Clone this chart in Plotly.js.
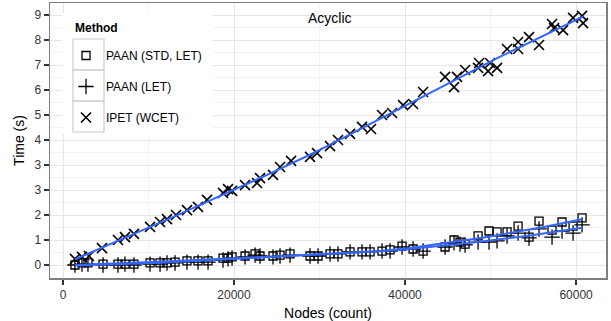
<!DOCTYPE html>
<html>
<head>
<meta charset="utf-8">
<script src="https://cdn.plot.ly/plotly-3.0.1.min.js"></script>
<style>html,body{margin:0;padding:0;background:#fff;}#chart{width:611px;height:321px;}</style>
</head>
<body>
<div id="chart"></div>
<script>
// ---- data ----
const methodNames = ["PAAN (STD, LET)", "PAAN (LET)", "IPET (WCET)"];

const paanNodes = [1400, 2220, 2920, 4680, 6430, 7250, 8300, 10180, 11350, 12160, 13100, 14500, 15790, 16960,
  18710, 19300, 19770, 21290, 22460, 23040, 24560, 25380, 26550, 28890, 29830, 31230, 32160, 33570, 34970,
  35910, 37310, 38250, 39650, 40940, 42110, 44680, 45730, 46430, 47020, 48540, 49820, 50760, 51930, 53220,
  54500, 55670, 57190, 58360, 59650, 60700];
const paanStdLetTime = [0.00, 0.07, 0.07, 0.03, 0.03, 0.03, 0.03, 0.07, 0.07, 0.07, 0.10, 0.14, 0.14, 0.14,
  0.24, 0.24, 0.28, 0.31, 0.38, 0.31, 0.31, 0.34, 0.38, 0.31, 0.31, 0.38, 0.38, 0.45, 0.45,
  0.45, 0.48, 0.52, 0.65, 0.55, 0.48, 0.62, 0.86, 0.79, 0.72, 1.00, 1.17, 1.14, 1.14, 1.34,
  0.96, 1.51, 1.20, 1.48, 1.34, 1.62];
const paanLetTime = [0.00, 0.03, 0.03, 0.00, 0.00, 0.03, 0.00, 0.03, 0.03, 0.07, 0.07, 0.10, 0.10, 0.10,
  0.17, 0.21, 0.24, 0.28, 0.34, 0.31, 0.28, 0.31, 0.34, 0.31, 0.31, 0.38, 0.38, 0.45, 0.45,
  0.45, 0.48, 0.48, 0.62, 0.55, 0.48, 0.62, 0.76, 0.72, 0.69, 0.79, 0.79, 0.83, 1.00, 1.10,
  0.93, 1.24, 0.96, 1.17, 1.10, 1.38];

const ipetNodes = [1400, 2220, 3040, 4560, 6430, 7250, 8300, 10180, 11350, 12160, 13220, 14500, 15790, 16840,
  18710, 19300, 19770, 21290, 22690, 23040, 24560, 25380, 26670, 28890, 29710, 31230, 32160, 33570, 34970,
  36020, 37310, 38480, 39770, 40940, 42110, 44680, 45730, 46080, 47020, 48540, 48660, 49710, 49940, 50760,
  51930, 53220, 53220, 54500, 55670, 57190, 57430, 58480, 59650, 60700, 60820];
const ipetTime = [0.21, 0.28, 0.31, 0.58, 0.86, 0.96, 1.07, 1.31, 1.48, 1.58, 1.72, 1.89, 2.00, 2.24,
  2.48, 2.61, 2.55, 2.75, 2.82, 2.99, 3.10, 3.37, 3.58, 3.72, 3.85, 4.09, 4.30, 4.51, 4.75,
  4.68, 5.16, 5.23, 5.50, 5.54, 5.95, 6.47, 6.12, 6.47, 6.71, 6.78, 6.95, 6.67, 6.95, 6.78,
  7.43, 7.43, 7.67, 7.84, 7.57, 8.29, 8.15, 8.08, 8.50, 8.57, 8.32];

// y tick positions (seconds) and their printed labels
const yTickVals = [0, 0.86, 1.72, 2.58, 3.44, 4.30, 5.16, 6.02, 6.88, 7.74, 8.60];
const yTickText = ["0", "1", "2", "3", "3", "4", "5", "6", "7", "8", "9"];
const yMinorVals = [0.43, 1.29, 2.15, 3.01, 3.87, 4.73, 5.59, 6.45, 7.31, 8.17];
const xTickVals = [0, 20000, 40000, 60000];
const xTickText = ["0", "20000", "40000", "60000"];
const xMinorVals = [10000, 30000, 50000];

// ---- loess smoother (degree 2, tricube weights, span 0.75) like geom_smooth ----
function loess(xs, ys, span, nOut) {
  const n = xs.length;
  const q = Math.max(3, Math.floor(n * span));
  const xmin = Math.min(...xs), xmax = Math.max(...xs);
  const outX = [], outY = [];
  for (let k = 0; k < nOut; k++) {
    const x0 = xmin + (xmax - xmin) * k / (nOut - 1);
    const d = xs.map(x => Math.abs(x - x0));
    const h = d.slice().sort((a, b) => a - b)[q - 1] * 1.0001;
    const S = [[0,0,0],[0,0,0],[0,0,0]], B = [0,0,0];
    for (let i = 0; i < n; i++) {
      const u = d[i] / h;
      if (u >= 1) continue;
      const w = Math.pow(1 - u * u * u, 3);
      const t = (xs[i] - x0) / h;
      const v = [1, t, t * t];
      for (let a = 0; a < 3; a++) {
        B[a] += w * v[a] * ys[i];
        for (let b = 0; b < 3; b++) S[a][b] += w * v[a] * v[b];
      }
    }
    const M = S.map((r, i) => r.concat([B[i]]));
    for (let c = 0; c < 3; c++) {
      let p = c;
      for (let r = c + 1; r < 3; r++) if (Math.abs(M[r][c]) > Math.abs(M[p][c])) p = r;
      [M[c], M[p]] = [M[p], M[c]];
      for (let r = c + 1; r < 3; r++) {
        const f = M[r][c] / M[c][c];
        for (let cc = c; cc < 4; cc++) M[r][cc] -= f * M[c][cc];
      }
    }
    const sol = [0, 0, 0];
    for (let r = 2; r >= 0; r--) {
      let s = M[r][3];
      for (let cc = r + 1; cc < 3; cc++) s -= M[r][cc] * sol[cc];
      sol[r] = s / M[r][r];
    }
    outX.push(x0); outY.push(sol[0]);
  }
  return {x: outX, y: outY};
}

const FONT = "Liberation Sans, Arial, Helvetica, sans-serif";
const sqFit = loess(paanNodes, paanStdLetTime, 0.75, 120);
const plFit = loess(paanNodes, paanLetTime, 0.75, 120);
const ipFit = loess(ipetNodes, ipetTime, 0.75, 120);

const pointStyle = (sym, size, lw) => ({symbol: sym, size: size, color: '#000', line: {color: '#000', width: lw}});

const traces = [
  {type: 'scatter', mode: 'markers', name: methodNames[0], legendgroup: 'a', x: paanNodes, y: paanStdLetTime,
   marker: pointStyle('square-open', 8, 1.3)},
  {type: 'scatter', mode: 'markers', name: methodNames[1], legendgroup: 'b', x: paanNodes, y: paanLetTime,
   marker: pointStyle('cross-thin-open', 11, 1.3)},
  {type: 'scatter', mode: 'markers', name: methodNames[2], legendgroup: 'c', x: ipetNodes, y: ipetTime,
   marker: pointStyle('x-thin-open', 10, 1.6)},
  {type: 'scatter', mode: 'lines', x: sqFit.x, y: sqFit.y, showlegend: false, hoverinfo: 'skip',
   line: {color: '#3366FF', width: 2}},
  {type: 'scatter', mode: 'lines', x: plFit.x, y: plFit.y, showlegend: false, hoverinfo: 'skip',
   line: {color: '#3366FF', width: 2}},
  {type: 'scatter', mode: 'lines', x: ipFit.x, y: ipFit.y, showlegend: false, hoverinfo: 'skip',
   line: {color: '#3366FF', width: 2}}
];

// pixel helpers for layout decoration (plot area: x 50..606, y 3..278)
const PX = px => (px - 50) / 556;
const PY = py => (278 - py) / 275;

const keyBox = (y0, y1) => ({type: 'rect', xref: 'paper', yref: 'paper', layer: 'above',
  x0: PX(73), x1: PX(104), y0: PY(y1), y1: PY(y0), line: {color: '#cccccc', width: 1.2}, fillcolor: 'rgba(0,0,0,0)'});

const layout = {
  width: 611, height: 321,
  margin: {l: 50, r: 5, t: 3, b: 43, pad: 0},
  paper_bgcolor: '#fff', plot_bgcolor: '#fff',
  font: {family: FONT, color: '#000'},
  showlegend: true,
  legend: {
    x: PX(66), y: PY(41), xanchor: 'left', yanchor: 'top',
    bgcolor: 'rgba(0,0,0,0)', borderwidth: 0,
    font: {size: 12, color: '#000', family: FONT},
    tracegroupgap: 12, itemsizing: 'trace'
  },
  xaxis: {
    range: [-1520, 63500], tickmode: 'array', tickvals: xTickVals, ticktext: xTickText,
    ticks: 'outside', ticklen: 5, tickwidth: 1.5, tickcolor: '#333',
    showline: true, mirror: true, linecolor: '#7f7f7f', linewidth: 1.5,
    showgrid: true, gridcolor: '#e6e6e6', gridwidth: 1, zeroline: false,
    minor: {tickmode: 'array', tickvals: xMinorVals, showgrid: true, gridcolor: '#f3f3f3', gridwidth: 1, ticks: ''},
    tickfont: {size: 12, color: '#333', family: FONT},
    title: {text: 'Nodes (count)', font: {size: 14, color: '#000', family: FONT}, standoff: 7}
  },
  yaxis: {
    range: [-0.447, 9.013], tickmode: 'array', tickvals: yTickVals, ticktext: yTickText,
    ticks: 'outside', ticklen: 5, tickwidth: 1.5, tickcolor: '#333',
    showline: true, mirror: true, linecolor: '#7f7f7f', linewidth: 1.5,
    showgrid: true, gridcolor: '#e6e6e6', gridwidth: 1, zeroline: false,
    minor: {tickmode: 'array', tickvals: yMinorVals, showgrid: true, gridcolor: '#f3f3f3', gridwidth: 1, ticks: ''},
    tickfont: {size: 12, color: '#333', family: FONT},
    title: {text: 'Time (s)', font: {size: 14, color: '#000', family: FONT}, standoff: 6}
  },
  shapes: [
    {type: 'rect', xref: 'paper', yref: 'paper', layer: 'above', x0: PX(62), x1: PX(213), y0: PY(134), y1: PY(13),
     line: {width: 0}, fillcolor: '#ffffff'},
    keyBox(39, 70), keyBox(70, 101), keyBox(101, 132)
  ],
  annotations: [
    {text: 'Acyclic', xref: 'paper', yref: 'paper', x: PX(330), y: PY(18), xanchor: 'center', yanchor: 'middle',
     showarrow: false, font: {size: 14, color: '#000', family: FONT}},
    {text: '<b>Method</b>', xref: 'paper', yref: 'paper', x: PX(73), y: PY(28), xanchor: 'left', yanchor: 'middle',
     showarrow: false, font: {size: 12, color: '#000', family: FONT}}
  ]
};

Plotly.newPlot('chart', traces, layout, {staticPlot: true, displayModeBar: false});
</script>
</body>
</html>
